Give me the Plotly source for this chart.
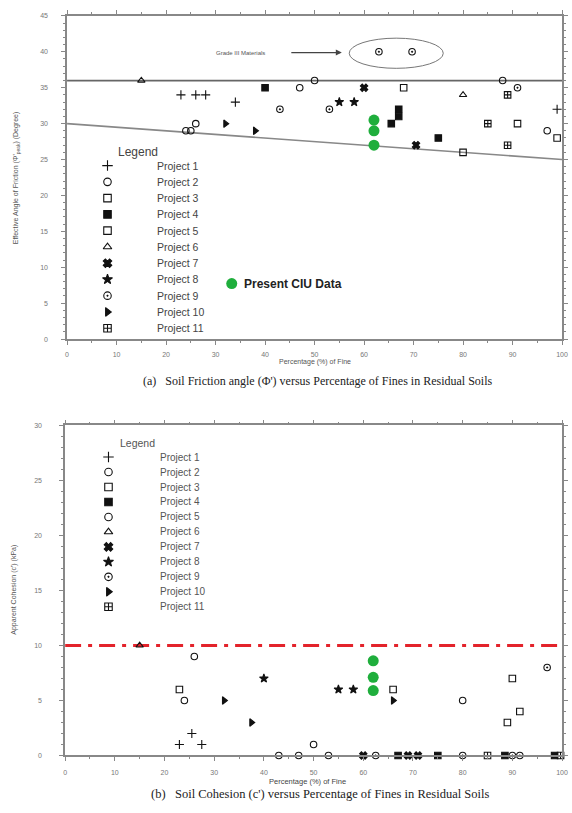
import plotly.graph_objects as go

W, H = 572, 813

projects = [f"Project {i}" for i in range(1, 12)]

# ---------- (a) friction angle vs fines ----------
a_p1_x = [23, 26, 28, 34, 99]
a_p1_y = [34, 34, 34, 33, 32]
a_p2_x = [26, 24, 25, 47, 50, 88, 97]
a_p2_y = [30, 29, 29, 35, 36, 36, 29]
a_p3_x = [68, 91, 99]
a_p3_y = [35, 30, 28]
a_p4_x = [40, 67, 67, 65.5, 75]
a_p4_y = [35, 32, 31, 30, 28]
a_p5_x = [80]
a_p5_y = [26]
a_p6_x = [15, 80]
a_p6_y = [36, 34]
a_p7_x = [60, 70.5]
a_p7_y = [35, 27]
a_p8_x = [55, 58]
a_p8_y = [33, 33]
a_p9_x = [43, 53, 91, 63, 69.7]
a_p9_y = [32, 32, 35, 40, 40]
a_p10_x = [32, 38]
a_p10_y = [30, 29]
a_p11_x = [85, 89, 89]
a_p11_y = [30, 34, 27]
a_ciu_x = [62, 62, 62]
a_ciu_y = [30.5, 29, 27]

a_upper_line_x = [0, 100]
a_upper_line_y = [36, 36]
a_lower_line_x = [0, 100]
a_lower_line_y = [30, 25]

# ---------- (b) cohesion vs fines ----------
b_p1_x = [25.5, 23, 27.5]
b_p1_y = [2, 1, 1]
b_p2_x = [24, 50, 43, 47, 53]
b_p2_y = [5, 1, 0, 0, 0]
b_p3_x = [23, 66, 90, 91.5, 89]
b_p3_y = [6, 6, 7, 4, 3]
b_p4_x = [67, 75, 88.5, 98.5]
b_p4_y = [0, 0, 0, 0]
b_p5_x = [26, 80]
b_p5_y = [9, 5]
b_p6_x = [15]
b_p6_y = [10]
b_p7_x = [60, 69, 71]
b_p7_y = [0, 0, 0]
b_p8_x = [40, 55, 58]
b_p8_y = [7, 6, 6]
b_p9_x = [97, 62.5, 80, 90, 91.5]
b_p9_y = [8, 0, 0, 0, 0]
b_p10_x = [32, 37.5, 66]
b_p10_y = [5, 3, 5]
b_p11_x = [85, 99.7]
b_p11_y = [0, 0]
b_ciu_x = [62, 62, 62]
b_ciu_y = [8.6, 7.1, 5.9]

b_limit_x = [0, 100]
b_limit_y = [10, 10]

# styles
sym_a = ['cross-thin-open', 'circle-open', 'square-open', 'square', 'square-open',
         'triangle-up-open', 'x', 'star', 'circle-open-dot', 'triangle-right', 'square-cross-open']
sym_b = ['cross-thin-open', 'circle-open', 'square-open', 'square', 'circle-open',
         'triangle-up-open', 'x', 'star', 'circle-open-dot', 'triangle-right', 'square-cross-open']
GREEN = '#1fae3c'

a_sets = [(a_p1_x, a_p1_y), (a_p2_x, a_p2_y), (a_p3_x, a_p3_y), (a_p4_x, a_p4_y),
          (a_p5_x, a_p5_y), (a_p6_x, a_p6_y), (a_p7_x, a_p7_y), (a_p8_x, a_p8_y),
          (a_p9_x, a_p9_y), (a_p10_x, a_p10_y), (a_p11_x, a_p11_y)]
b_sets = [(b_p1_x, b_p1_y), (b_p2_x, b_p2_y), (b_p3_x, b_p3_y), (b_p4_x, b_p4_y),
          (b_p5_x, b_p5_y), (b_p6_x, b_p6_y), (b_p7_x, b_p7_y), (b_p8_x, b_p8_y),
          (b_p9_x, b_p9_y), (b_p10_x, b_p10_y), (b_p11_x, b_p11_y)]

fig = go.Figure()

def mk(sym, size=6.5):
    return dict(symbol=sym, size=size, color='#111', line=dict(color='#111', width=1.1))

# reference lines (a)
fig.add_trace(go.Scatter(x=a_upper_line_x, y=a_upper_line_y, mode='lines',
                         line=dict(color='#666', width=1.8), xaxis='x', yaxis='y', showlegend=False))
fig.add_trace(go.Scatter(x=a_lower_line_x, y=a_lower_line_y, mode='lines',
                         line=dict(color='#888', width=1.6), xaxis='x', yaxis='y', showlegend=False))
# limit line (b)
fig.add_trace(go.Scatter(x=b_limit_x, y=b_limit_y, mode='lines',
                         line=dict(color='#e3232b', width=3, dash='16px,7px,4px,7px'),
                         xaxis='x2', yaxis='y2', showlegend=False))

for i, (xs, ys) in enumerate(a_sets):
    fig.add_trace(go.Scatter(x=xs, y=ys, mode='markers', marker=mk(sym_a[i]),
                             name=projects[i], xaxis='x', yaxis='y', showlegend=False, cliponaxis=False))
for i, (xs, ys) in enumerate(b_sets):
    fig.add_trace(go.Scatter(x=xs, y=ys, mode='markers', marker=mk(sym_b[i]),
                             name=projects[i], xaxis='x2', yaxis='y2', showlegend=False, cliponaxis=False))

fig.add_trace(go.Scatter(x=a_ciu_x, y=a_ciu_y, mode='markers',
                         marker=dict(color=GREEN, size=11), xaxis='x', yaxis='y', showlegend=False))
fig.add_trace(go.Scatter(x=b_ciu_x, y=b_ciu_y, mode='markers',
                         marker=dict(color=GREEN, size=11), xaxis='x2', yaxis='y2', showlegend=False))

# ---------- manual legends on a pixel overlay axis ----------
leg_a_x, leg_a_y0, leg_a_dy = 107, 163, 16.4
leg_b_x, leg_b_y0, leg_b_dy = 108, 457, 15.1
n = len(projects)
for i in range(n):
    fig.add_trace(go.Scatter(x=[leg_a_x], y=[leg_a_y0 + i * leg_a_dy], mode='markers',
                             marker=mk(sym_a[i], 7.5), xaxis='x3', yaxis='y3', showlegend=False))
    fig.add_trace(go.Scatter(x=[leg_b_x], y=[leg_b_y0 + i * leg_b_dy], mode='markers',
                             marker=mk(sym_b[i], 7.5), xaxis='x3', yaxis='y3', showlegend=False))
fig.add_trace(go.Scatter(x=[233], y=[282], mode='markers', marker=dict(color=GREEN, size=11),
                         xaxis='x3', yaxis='y3', showlegend=False))

ann = []
for i in range(n):
    ann.append(dict(x=155, y=leg_a_y0 + i * leg_a_dy, xref='x3', yref='y3', text=projects[i],
                    showarrow=False, xanchor='left', yanchor='middle',
                    font=dict(family='Arial', size=10.5, color='#444')))
    ann.append(dict(x=158, y=leg_b_y0 + i * leg_b_dy, xref='x3', yref='y3', text=projects[i],
                    showarrow=False, xanchor='left', yanchor='middle',
                    font=dict(family='Arial', size=10, color='#555')))
ann.append(dict(x=116, y=149, xref='x3', yref='y3', text='Legend', showarrow=False,
                xanchor='left', yanchor='middle', font=dict(family='Arial', size=12, color='#444')))
ann.append(dict(x=118, y=443, xref='x3', yref='y3', text='Legend', showarrow=False,
                xanchor='left', yanchor='middle', font=dict(family='Arial', size=10.5, color='#555')))
ann.append(dict(x=243, y=282, xref='x3', yref='y3', text='<b>Present CIU Data</b>', showarrow=False,
                xanchor='left', yanchor='middle', font=dict(family='Arial', size=12, color='#222')))

# axis titles
ann.append(dict(x=317, y=361, xref='x3', yref='y3', text='Percentage (%) of Fine', showarrow=False,
                font=dict(family='Arial', size=7, color='#555')))
ann.append(dict(x=310, y=784, xref='x3', yref='y3', text='Percentage (%) of Fine', showarrow=False,
                font=dict(family='Arial', size=7.5, color='#444')))
ann.append(dict(x=15, y=175, xref='x3', yref='y3', textangle=-90,
                text="Effective Angle of Friction (Φ'<sub>peak</sub>) (Degree)", showarrow=False,
                font=dict(family='Arial', size=7, color='#555')))
ann.append(dict(x=12, y=591, xref='x3', yref='y3', textangle=-90,
                text="Apparent Cohesion (c') (kPa)", showarrow=False,
                font=dict(family='Arial', size=7, color='#555')))
# captions
ann.append(dict(x=320, y=380, xref='x3', yref='y3',
                text="(a)   Soil Friction angle (Φ') versus Percentage of Fines in Residual Soils",
                showarrow=False, font=dict(family='Liberation Serif', size=12, color='#222')))
ann.append(dict(x=322, y=797, xref='x3', yref='y3',
                text="(b)   Soil Cohesion (c') versus Percentage of Fines in Residual Soils",
                showarrow=False, font=dict(family='Liberation Serif', size=12.5, color='#222')))

# Grade III materials note
ann.append(dict(x=55.5, y=39.9, xref='x', yref='y', ax=45, ay=39.9, axref='x', ayref='y',
                text='', showarrow=True, arrowhead=2, arrowsize=1, arrowwidth=1.2, arrowcolor='#444'))
ann.append(dict(x=35, y=39.9, xref='x', yref='y', text='Grade III Materials', showarrow=False,
                font=dict(family='Arial', size=6, color='#555')))

shapes = [dict(type='circle', xref='x', yref='y', x0=57, x1=76, y0=37.7, y1=41.9,
               line=dict(color='#777', width=1))]

axis_common = dict(showline=True, linecolor='#888', linewidth=1.5, mirror='ticks',
                   ticks='outside', ticklen=4, tickcolor='#888', showgrid=False, zeroline=False,
                   tickfont=dict(family='Arial', size=7, color='#777'))

fig.update_layout(
    width=W, height=H, margin=dict(l=0, r=0, t=0, b=0),
    paper_bgcolor='white', plot_bgcolor='rgba(0,0,0,0)', showlegend=False,
    xaxis=dict(domain=[66 / W, 568 / W], range=[0, 100], tickvals=list(range(0, 101, 10)),
               minor=dict(ticks='outside', ticklen=2, dtick=5, tickcolor='#888'),
               ticklabelstandoff=4, anchor='y', **axis_common),
    yaxis=dict(domain=[1 - 338 / H, 1 - 12 / H], range=[0, 45], tickvals=list(range(0, 46, 5)),
               minor=dict(ticks='outside', ticklen=2, dtick=1, tickcolor='#888'),
               ticklabelstandoff=12, anchor='x', **axis_common),
    xaxis2=dict(domain=[64 / W, 568 / W], range=[0, 100], tickvals=list(range(0, 101, 10)),
                minor=dict(ticks='outside', ticklen=2, dtick=5, tickcolor='#888'),
                ticklabelstandoff=5, anchor='y2', **axis_common),
    yaxis2=dict(domain=[1 - 758 / H, 1 - 425 / H], range=[0, 30], tickvals=list(range(0, 31, 5)),
                minor=dict(ticks='outside', ticklen=2, dtick=1, tickcolor='#888'),
                ticklabelstandoff=16, anchor='x2', **axis_common),
    xaxis3=dict(domain=[0, 1], range=[0, W], visible=False, anchor='y3', fixedrange=True),
    yaxis3=dict(domain=[0, 1], range=[H, 0], visible=False, anchor='x3', fixedrange=True),
    annotations=ann, shapes=shapes,
)

fig.write_html("out.html")
